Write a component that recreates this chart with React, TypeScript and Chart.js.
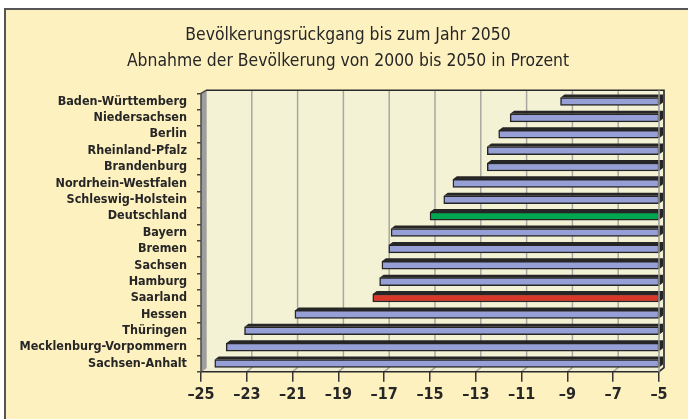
import React, { useEffect, useRef } from 'react';
import { Chart, registerables } from 'chart.js';

Chart.register(...registerables);

// ---------- data ----------
const categories = [
  'Baden-Württemberg',
  'Niedersachsen',
  'Berlin',
  'Rheinland-Pfalz',
  'Brandenburg',
  'Nordrhein-Westfalen',
  'Schleswig-Holstein',
  'Deutschland',
  'Bayern',
  'Bremen',
  'Sachsen',
  'Hamburg',
  'Saarland',
  'Hessen',
  'Thüringen',
  'Mecklenburg-Vorpommern',
  'Sachsen-Anhalt',
];
const values = [
  -9.3, -11.5, -12.0, -12.5, -12.5, -14.0, -14.4, -15.0, -16.7, -16.8, -17.1, -17.2, -17.5, -20.9, -23.1,
  -23.9, -24.4,
];
const baseValue = -5;
const xMin = -25;
const xMax = -5;
const xStep = 2;
const titleLines = ['Bevölkerungsrückgang bis zum Jahr 2050', 'Abnahme der Bevölkerung von 2000 bis 2050 in Prozent'];
const greenCategory = 'Deutschland';
const redCategory = 'Saarland';

// ---------- styles ----------
const FONT = '"DejaVu Sans Condensed", "DejaVu Sans", sans-serif';
const INK = '#262626';
const BAR_BLUE = '#97A0D6';
const BAR_GREEN = '#00A650';
const BAR_RED = '#D8372A';
const WALL_BG = '#F4F2D5';
const DX = 5;
const DY = 4;
const BDX = 4;
const BDY = 3;

const scenePlugin = {
  id: 'scene3d',
  beforeDatasetsDraw(chart: any) {
    const { ctx, chartArea: a, scales } = chart;
    const x = scales.x;
    const L = a.left, R = a.right, T = a.top, B = a.bottom;
    const backTop = T - 3;
    const backBottom = B - DY;
    ctx.save();
    // back wall
    ctx.fillStyle = WALL_BG;
    ctx.fillRect(L + DX, backTop, R - L, backBottom - backTop);
    // floor
    ctx.fillStyle = '#EFEDD2';
    ctx.beginPath();
    ctx.moveTo(L, B);
    ctx.lineTo(R, B);
    ctx.lineTo(R + DX, backBottom);
    ctx.lineTo(L + DX, backBottom);
    ctx.closePath();
    ctx.fill();
    // grid lines on back wall + floor
    ctx.strokeStyle = '#A9A8A0';
    ctx.lineWidth = 1.5;
    for (let v = xMin; v <= xMax; v += xStep) {
      const px = x.getPixelForValue(v);
      ctx.beginPath();
      ctx.moveTo(px + DX, backTop);
      ctx.lineTo(px + DX, backBottom);
      ctx.lineTo(px, B);
      ctx.stroke();
    }
    // back wall border (top, right)
    ctx.strokeStyle = '#2a2a2a';
    ctx.lineWidth = 1.5;
    ctx.beginPath();
    ctx.moveTo(L + DX, backTop);
    ctx.lineTo(R + DX, backTop);
    ctx.lineTo(R + DX, backBottom);
    ctx.lineTo(R, B);
    ctx.stroke();
    // front floor edge
    ctx.beginPath();
    ctx.moveTo(L, B);
    ctx.lineTo(R, B);
    ctx.stroke();
    // left wall
    ctx.fillStyle = '#9E9E9E';
    ctx.beginPath();
    ctx.moveTo(L, T);
    ctx.lineTo(L + DX, backTop);
    ctx.lineTo(L + DX, backBottom);
    ctx.lineTo(L, B);
    ctx.closePath();
    ctx.fill();
    ctx.strokeStyle = '#4a4a4a';
    ctx.lineWidth = 1.5;
    ctx.beginPath();
    ctx.moveTo(L + DX, backTop);
    ctx.lineTo(L, T);
    ctx.lineTo(L, B);
    ctx.stroke();
    // bar depth
    const meta = chart.getDatasetMeta(0);
    ctx.fillStyle = '#262626';
    meta.data.forEach((el: any) => {
      const p = el.getProps(['x', 'y', 'base', 'height'], true);
      const left = Math.min(p.x, p.base);
      const right = Math.max(p.x, p.base);
      const top = p.y - p.height / 2;
      const bottom = p.y + p.height / 2;
      ctx.beginPath();
      ctx.moveTo(left, top);
      ctx.lineTo(left + BDX, top - BDY);
      ctx.lineTo(right + BDX, top - BDY);
      ctx.lineTo(right + BDX, bottom - BDY);
      ctx.lineTo(right, bottom);
      ctx.lineTo(right, top);
      ctx.closePath();
      ctx.fill();
    });
    ctx.restore();
  },
  afterDatasetsDraw(chart: any) {
    const { ctx, chartArea: a } = chart;
    ctx.save();
    ctx.strokeStyle = '#9a9a9a';
    ctx.lineWidth = 1.5;
    ctx.beginPath();
    ctx.moveTo(a.right, a.top - 3);
    ctx.lineTo(a.right, a.bottom);
    ctx.stroke();
    ctx.restore();
  },
  afterDraw(chart: any) {
    const { ctx } = chart;
    ctx.save();
    ctx.fillStyle = INK;
    ctx.font = `17.4px ${FONT}`;
    ctx.textAlign = 'center';
    ctx.textBaseline = 'middle';
    ctx.fillText(titleLines[0], 348, 35);
    ctx.fillText(titleLines[1], 348, 61.7);
    ctx.restore();
  },
};

export default function App() {
  const ref = useRef<HTMLCanvasElement>(null);
  useEffect(() => {
    if (!ref.current) return;
    const colors = categories.map((c) => (c === greenCategory ? BAR_GREEN : c === redCategory ? BAR_RED : BAR_BLUE));
    const chart = new Chart(ref.current, {
      type: 'bar',
      data: {
        labels: categories,
        datasets: [
          {
            data: values.map((v) => [v, baseValue]) as any,
            backgroundColor: colors,
            borderColor: '#262626',
            borderWidth: 1.5,
            borderSkipped: false,
            barThickness: 8,
          },
        ],
      },
      options: {
        indexAxis: 'y',
        animation: false,
        responsive: false,
        devicePixelRatio: 1,
        layout: { padding: { top: 93.3, right: 29, bottom: 0, left: 0 } },
        plugins: {
          legend: { display: false },
          title: { display: false },
          tooltip: { enabled: false },
        },
        scales: {
          x: {
            type: 'linear',
            min: xMin,
            max: xMax,
            ticks: {
              stepSize: xStep,
              color: INK,
              padding: 4,
              font: { family: FONT, size: 16, weight: 'bold' },
              callback: (v: any) => '\u2013' + Math.abs(Number(v)),
            },
            grid: {
              drawOnChartArea: false,
              drawTicks: true,
              tickLength: 10,
              color: '#333',
              lineWidth: 1.5,
            },
            border: { display: false },
            afterFit: (s: any) => {
              s.height = 419 - 371.7;
            },
          },
          y: {
            type: 'category',
            ticks: {
              autoSkip: false,
              color: INK,
              padding: 10,
              font: { family: FONT, size: 12.5, weight: 'bold' },
            },
            grid: {
              drawOnChartArea: false,
              drawTicks: true,
              tickLength: 4,
              offset: true,
              color: '#444',
              lineWidth: 1.5,
            },
            border: { display: false },
            afterFit: (s: any) => {
              s.width = 201;
            },
          },
        },
      },
      plugins: [scenePlugin],
    });
    return () => chart.destroy();
  }, []);

  return (
    <div
      style={{
        position: 'fixed',
        left: 0,
        top: 0,
        width: 688,
        height: 419,
        overflow: 'hidden',
        background: '#fff',
      }}
    >
      <div
        style={{
          position: 'absolute',
          left: 4,
          top: 8,
          width: 710,
          height: 440,
          boxSizing: 'border-box',
          border: '2px solid #555',
          background: '#FEF1C0',
        }}
      />
      <canvas ref={ref} width={688} height={419} style={{ position: 'absolute', left: 0, top: 0, width: 688, height: 419 }} />
    </div>
  );
}
